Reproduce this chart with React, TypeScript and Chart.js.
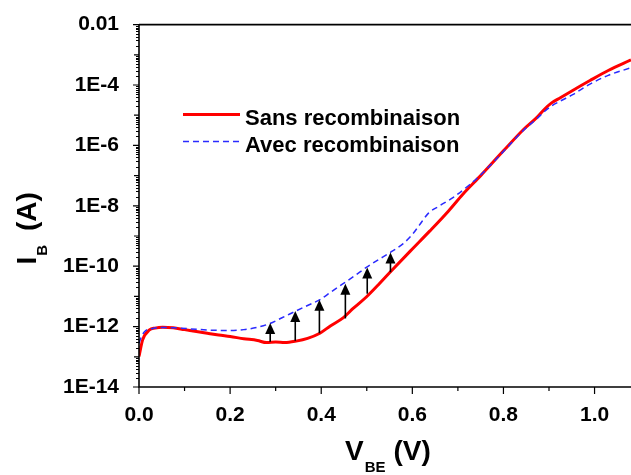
import React, { useEffect, useRef } from "react";
import { Chart, registerables } from "chart.js";

Chart.register(...registerables);

const FONT = "'Liberation Sans', Arial, Helvetica, sans-serif";

// Series: V_BE (V) and I_B (A)
const seriesLabels = ["Sans recombinaison", "Avec recombinaison"];

const vSans = [0.0, 0.008, 0.023, 0.035, 0.052, 0.075, 0.1, 0.126, 0.15, 0.175, 0.2, 0.23, 0.26, 0.28, 0.3, 0.32, 0.345, 0.37, 0.397, 0.42, 0.448, 0.47, 0.499, 0.525, 0.551, 0.6, 0.638, 0.68, 0.71, 0.75, 0.8, 0.843, 0.873, 0.89, 0.905, 0.925, 0.952, 0.99, 1.03, 1.08];
const iSans = [1.02e-13, 3.63e-13, 7.76e-13, 8.91e-13, 9.55e-13, 9.12e-13, 7.94e-13, 6.92e-13, 6.03e-13, 5.25e-13, 4.68e-13, 3.98e-13, 3.47e-13, 2.95e-13, 3.09e-13, 2.95e-13, 3.31e-13, 4.07e-13, 6.03e-13, 1.05e-12, 1.95e-12, 3.98e-12, 9.55e-12, 2.4e-11, 6.31e-11, 3.72e-10, 1.45e-9, 6.92e-9, 2.34e-8, 1.0e-7, 6.61e-7, 3.24e-6, 8.32e-6, 1.58e-5, 2.51e-5, 3.8e-5, 6.61e-5, 1.41e-4, 3.02e-4, 6.76e-4];

const vAvec = [0.0, 0.005, 0.012, 0.03, 0.052, 0.08, 0.126, 0.16, 0.199, 0.23, 0.258, 0.287, 0.315, 0.345, 0.37, 0.397, 0.42, 0.448, 0.475, 0.499, 0.525, 0.551, 0.58, 0.6, 0.615, 0.635, 0.66, 0.69, 0.725, 0.75, 0.8, 0.844, 0.873, 0.89, 0.905, 0.925, 0.952, 0.99, 1.03, 1.08];
const iAvec = [2.82e-13, 4.47e-13, 6.76e-13, 8.71e-13, 9.33e-13, 9.12e-13, 8.13e-13, 7.59e-13, 7.41e-13, 7.94e-13, 9.33e-13, 1.26e-12, 2.0e-12, 3.31e-12, 5.01e-12, 7.76e-12, 1.35e-11, 2.63e-11, 5.01e-11, 9.12e-11, 1.62e-10, 2.82e-10, 5.62e-10, 1.12e-9, 2.24e-9, 5.62e-9, 1.0e-8, 1.91e-8, 4.9e-8, 1.05e-7, 6.31e-7, 3.16e-6, 7.59e-6, 1.32e-5, 2.0e-5, 2.95e-5, 4.79e-5, 1.07e-4, 2.09e-4, 3.72e-4];

// Arrows (from "Sans" curve up to "Avec" curve)
const arrowV = [0.288, 0.343, 0.396, 0.453, 0.501, 0.552];
const arrowFrom = [3.16e-13, 3.39e-13, 6.03e-13, 1.86e-12, 1.23e-11, 6.31e-11];
const arrowTo = [1.32e-12, 3.31e-12, 7.76e-12, 2.63e-11, 9.12e-11, 2.82e-10];

// Axes
const xMin = 0;
const xMax = 1.08;
const xTickValues = [0, 0.2, 0.4, 0.6, 0.8, 1.0];
const xTickLabels = ["0.0", "0.2", "0.4", "0.6", "0.8", "1.0"];
const xMinorTicks = [0.1, 0.3, 0.5, 0.7, 0.9];
const yMin = 1e-14;
const yMax = 1e-2;
const yTickValues = [1e-14, 1e-12, 1e-10, 1e-8, 1e-6, 1e-4, 1e-2];
const yTickLabels = ["1E-14", "1E-12", "1E-10", "1E-8", "1E-6", "1E-4", "0.01"];
const yDecadeTicks = [1e-13, 1e-11, 1e-9, 1e-7, 1e-5, 1e-3];
const yMinorMultipliers = [2, 3, 4, 5, 6, 7, 8, 9];

const RED = "#ff0000";
const BLUE = "#2b2bff";

const decorPlugin = {
  id: "decor",
  afterDatasetsDraw(chart: any) {
    const { ctx, scales } = chart;
    const xs = scales.x;
    const ys = scales.y;
    ctx.save();
    ctx.fillStyle = "#000";
    ctx.strokeStyle = "#000";
    for (let i = 0; i < arrowV.length; i++) {
      const x = xs.getPixelForValue(arrowV[i]);
      const y1 = ys.getPixelForValue(arrowFrom[i]);
      const y2 = ys.getPixelForValue(arrowTo[i]);
      const headH = 11;
      const headW = 5;
      ctx.lineWidth = 1.6;
      ctx.beginPath();
      ctx.moveTo(x, y1);
      ctx.lineTo(x, y2 + headH - 1);
      ctx.stroke();
      ctx.beginPath();
      ctx.moveTo(x, y2);
      ctx.lineTo(x - headW, y2 + headH);
      ctx.lineTo(x + headW, y2 + headH);
      ctx.closePath();
      ctx.fill();
    }
    ctx.restore();
  },
  afterDraw(chart: any) {
    const { ctx, chartArea: a, scales } = chart;
    const xs = scales.x;
    const ys = scales.y;
    ctx.save();
    ctx.strokeStyle = "#000";
    // frame lines
    ctx.lineWidth = 1.6;
    ctx.beginPath();
    ctx.moveTo(a.left, a.top);
    ctx.lineTo(a.right + 2, a.top);
    ctx.moveTo(a.left, a.top);
    ctx.lineTo(a.left, a.bottom);
    ctx.lineTo(a.right + 2, a.bottom);
    ctx.stroke();
    // x ticks
    ctx.lineWidth = 1.2;
    ctx.beginPath();
    for (const v of xTickValues) {
      const x = xs.getPixelForValue(v);
      ctx.moveTo(x, a.bottom);
      ctx.lineTo(x, a.bottom + 7);
    }
    for (const v of xMinorTicks) {
      const x = xs.getPixelForValue(v);
      ctx.moveTo(x, a.bottom);
      ctx.lineTo(x, a.bottom + 4);
    }
    // y ticks
    for (const v of yTickValues) {
      const y = ys.getPixelForValue(v);
      ctx.moveTo(a.left - 6, y);
      ctx.lineTo(a.left, y);
    }
    for (const v of yDecadeTicks) {
      const y = ys.getPixelForValue(v);
      ctx.moveTo(a.left - 5, y);
      ctx.lineTo(a.left, y);
    }
    for (const d of [...yTickValues, ...yDecadeTicks]) {
      if (d >= yMax) continue;
      for (const m of yMinorMultipliers) {
        const y = Math.round(ys.getPixelForValue(d * m)) + 0.5;
        ctx.moveTo(a.left - 3, y);
        ctx.lineTo(a.left, y);
      }
    }
    ctx.stroke();

    // legend
    const lx = a.left + 44;
    const ly = a.top + 90;
    ctx.lineWidth = 3;
    ctx.strokeStyle = RED;
    ctx.beginPath();
    ctx.moveTo(lx, ly);
    ctx.lineTo(lx + 57, ly);
    ctx.stroke();
    ctx.lineWidth = 1.5;
    ctx.strokeStyle = BLUE;
    ctx.setLineDash([6, 4]);
    ctx.beginPath();
    ctx.moveTo(lx, ly + 27);
    ctx.lineTo(lx + 57, ly + 27);
    ctx.stroke();
    ctx.setLineDash([]);
    ctx.fillStyle = "#000";
    ctx.font = `bold 22px ${FONT}`;
    ctx.textBaseline = "alphabetic";
    ctx.textAlign = "left";
    ctx.fillText(seriesLabels[0], lx + 62, ly + 10);
    ctx.fillText(seriesLabels[1], lx + 62, ly + 37);

    // x axis title: V_BE (V)
    let tx = a.left + 206;
    const tb = a.bottom + 73;
    ctx.font = `bold 28px ${FONT}`;
    ctx.fillText("V", tx, tb);
    tx += ctx.measureText("V").width + 1;
    ctx.font = `bold 15px ${FONT}`;
    ctx.fillText("BE", tx, tb + 12);
    tx += ctx.measureText("BE").width + 8;
    ctx.font = `bold 28px ${FONT}`;
    ctx.fillText("(V)", tx, tb);

    // y axis title: I_B (A)
    ctx.translate(36, a.top + 240);
    ctx.rotate(-Math.PI / 2);
    let ry = 0;
    ctx.font = `bold 28px ${FONT}`;
    ctx.fillText("I", ry, 0);
    ry += ctx.measureText("I").width + 1;
    ctx.font = `bold 15px ${FONT}`;
    ctx.fillText("B", ry, 11);
    ry += ctx.measureText("B").width + 14;
    ctx.font = `bold 28px ${FONT}`;
    ctx.fillText("(A)", ry, 0);
    ctx.restore();
  },
};

export default function App() {
  const canvasRef = useRef<HTMLCanvasElement | null>(null);

  useEffect(() => {
    const canvas = canvasRef.current;
    if (!canvas) return;
    const chart = new Chart(canvas, {
      type: "line",
      data: {
        datasets: [
          {
            label: seriesLabels[0],
            data: vSans.map((v, i) => ({ x: v, y: iSans[i] })),
            borderColor: RED,
            backgroundColor: RED,
            borderWidth: 3,
            pointRadius: 0,
            cubicInterpolationMode: "monotone",
            order: 2,
          },
          {
            label: seriesLabels[1],
            data: vAvec.map((v, i) => ({ x: v, y: iAvec[i] })),
            borderColor: BLUE,
            backgroundColor: BLUE,
            borderWidth: 1.5,
            borderDash: [6, 4],
            pointRadius: 0,
            cubicInterpolationMode: "monotone",
            order: 1,
          },
        ],
      },
      options: {
        responsive: false,
        animation: false,
        devicePixelRatio: 1,
        layout: { padding: { top: 21, left: 0, right: 0, bottom: 0 } },
        plugins: {
          legend: { display: false },
          tooltip: { enabled: false },
          title: { display: false },
        },
        scales: {
          x: {
            type: "linear",
            min: xMin,
            max: xMax,
            grid: { display: false },
            border: { display: false },
            afterBuildTicks: (s: any) => {
              s.ticks = xTickValues.map((v) => ({ value: v }));
            },
            afterFit: (s: any) => {
              s.height = 88;
            },
            ticks: {
              autoSkip: false,
              maxRotation: 0,
              padding: 8,
              color: "#000",
              font: { family: FONT, size: 21, weight: "bold" },
              callback: (_v: any, i: number) => xTickLabels[i],
            },
          },
          y: {
            type: "logarithmic",
            min: yMin,
            max: yMax,
            grid: { display: false },
            border: { display: false },
            afterBuildTicks: (s: any) => {
              s.ticks = yTickValues.map((v) => ({ value: v, major: true }));
            },
            afterFit: (s: any) => {
              s.width = 139;
            },
            ticks: {
              autoSkip: false,
              padding: 12,
              color: "#000",
              font: { family: FONT, size: 21, weight: "bold" },
              callback: (_v: any, i: number) => yTickLabels[i],
            },
          },
        },
      },
      plugins: [decorPlugin],
    } as any);
    return () => chart.destroy();
  }, []);

  return (
    <div style={{ position: "fixed", left: 0, top: 0, width: 631, height: 475, background: "#fff" }}>
      <canvas ref={canvasRef} width={631} height={475} style={{ display: "block" }} />
    </div>
  );
}
